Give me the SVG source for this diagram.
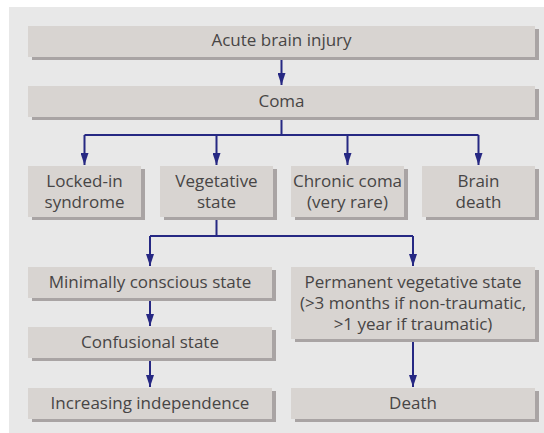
<svg xmlns="http://www.w3.org/2000/svg" width="544" height="433" viewBox="0 0 544 433">
<defs>
<style>
.bg{fill:#e8e8e8}
.box{fill:#d8d4d1}
.sh{fill:#a9a4a4}
.t{font-family:"Open Sans","Liberation Sans",sans-serif;font-size:17px;fill:#474545;text-anchor:middle}
.c{stroke:#262883;stroke-width:2;fill:none}
</style>
<marker id="a" markerUnits="userSpaceOnUse" markerWidth="12" markerHeight="8" refX="12" refY="4" orient="auto" viewBox="0 0 12 8">
<path d="M0,0 L12,4 L0,8 Z" fill="#262883"/>
</marker>
</defs>
<rect width="544" height="433" fill="#ffffff"/>
<rect class="bg" x="9" y="7" width="535" height="426"/>
<g id="connectors">
<path class="c" d="M281.5,57 V85" marker-end="url(#a)"/>
<path class="c" d="M281.5,117 V135"/>
<path class="c" d="M84.5,135 H478.5"/>
<path class="c" d="M84.5,135 V165" marker-end="url(#a)"/>
<path class="c" d="M216.5,135 V165" marker-end="url(#a)"/>
<path class="c" d="M347.5,135 V165" marker-end="url(#a)"/>
<path class="c" d="M478.5,135 V165" marker-end="url(#a)"/>
<path class="c" d="M216.5,217 V236"/>
<path class="c" d="M150,236 H413"/>
<path class="c" d="M150,236 V266" marker-end="url(#a)"/>
<path class="c" d="M413,236 V266" marker-end="url(#a)"/>
<path class="c" d="M150,298 V326" marker-end="url(#a)"/>
<path class="c" d="M150,358 V387" marker-end="url(#a)"/>
<path class="c" d="M413,339 V387" marker-end="url(#a)"/>
</g>
<g id="n1"><rect class="sh" x="32" y="29" width="507" height="31"/><rect class="box" x="28" y="26" width="507" height="31"/><text class="t" x="281.5" y="46">Acute brain injury</text></g>
<g id="n2"><rect class="sh" x="32" y="89" width="507" height="31"/><rect class="box" x="28" y="86" width="507" height="31"/><text class="t" x="281.5" y="106.5">Coma</text></g>
<g id="n3"><rect class="sh" x="32" y="169" width="113" height="51"/><rect class="box" x="28" y="166" width="113" height="51"/><text class="t" x="84.5" y="187">Locked-in</text><text class="t" x="84.5" y="207.5">syndrome</text></g>
<g id="n4"><rect class="sh" x="164" y="169" width="113" height="51"/><rect class="box" x="160" y="166" width="113" height="51"/><text class="t" x="216.5" y="187">Vegetative</text><text class="t" x="216.5" y="207.5">state</text></g>
<g id="n5"><rect class="sh" x="295" y="169" width="113" height="51"/><rect class="box" x="291" y="166" width="113" height="51"/><text class="t" x="347.5" y="187">Chronic coma</text><text class="t" x="347.5" y="207.5">(very rare)</text></g>
<g id="n6"><rect class="sh" x="426" y="169" width="113" height="51"/><rect class="box" x="422" y="166" width="113" height="51"/><text class="t" x="478.5" y="187">Brain</text><text class="t" x="478.5" y="207.5">death</text></g>
<g id="n7"><rect class="sh" x="32" y="270" width="244" height="31"/><rect class="box" x="28" y="267" width="244" height="31"/><text class="t" x="150" y="287.5">Minimally conscious state</text></g>
<g id="n8"><rect class="sh" x="295" y="270" width="244" height="72"/><rect class="box" x="291" y="267" width="244" height="72"/><text class="t" x="413" y="288">Permanent vegetative state</text><text class="t" x="413" y="309">(&gt;3 months if non-traumatic,</text><text class="t" x="413" y="330">&gt;1 year if traumatic)</text></g>
<g id="n9"><rect class="sh" x="32" y="330" width="244" height="31"/><rect class="box" x="28" y="327" width="244" height="31"/><text class="t" x="150" y="347.5">Confusional state</text></g>
<g id="n10"><rect class="sh" x="32" y="391" width="244" height="31"/><rect class="box" x="28" y="388" width="244" height="31"/><text class="t" x="150" y="408.5">Increasing independence</text></g>
<g id="n11"><rect class="sh" x="295" y="391" width="244" height="31"/><rect class="box" x="291" y="388" width="244" height="31"/><text class="t" x="413" y="408.5">Death</text></g>
</svg>
